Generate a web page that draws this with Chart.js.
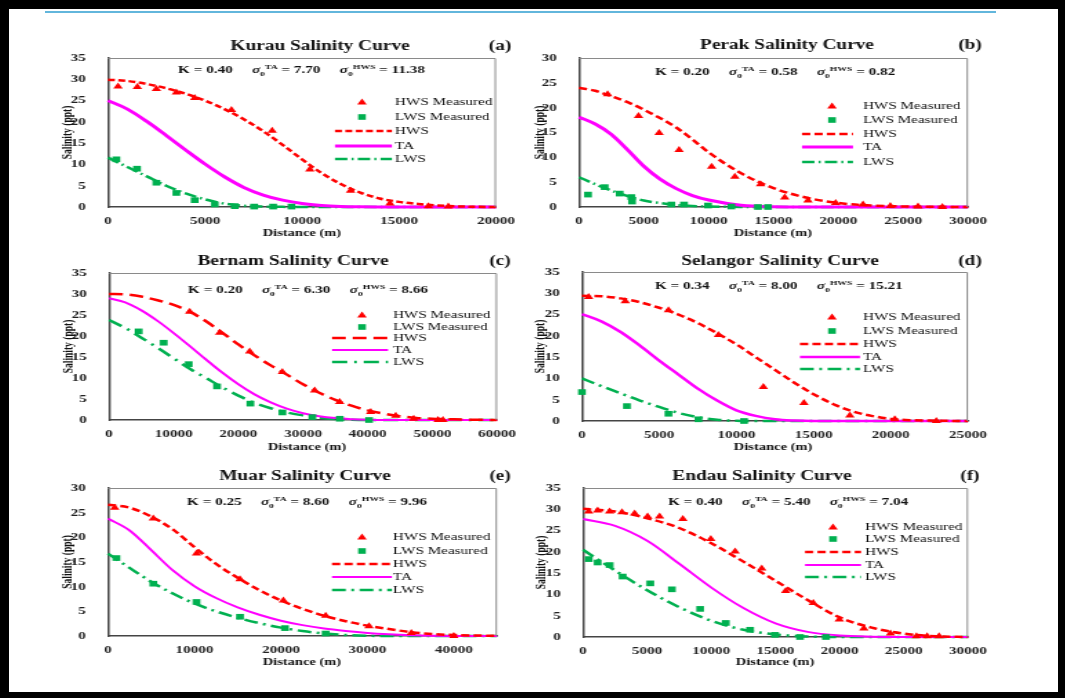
<!DOCTYPE html>
<html>
<head>
<meta charset="utf-8">
<title>Salinity Curves</title>
<script src="https://cdn.jsdelivr.net/npm/chart.js@4.4.0/dist/chart.umd.min.js"></script>
<style>
  html, body { margin: 0; padding: 0; background: #000; }
  #page { position: relative; width: 1065px; height: 698px; background: #000; overflow: hidden; }
  #sheet { position: absolute; left: 9px; top: 9px; width: 1049px; height: 683px; background: #fff; }
  #rule { position: absolute; left: 45px; top: 11px; width: 951px; height: 2px; background: #62b6dc; }
  canvas.panel { position: absolute; transform-origin: 0 0; }
</style>
</head>
<body>
<div id="page">
  <div id="sheet"></div>
  <div id="rule"></div>
</div>
<script>
// ---- data ----
const legendLabels = ['HWS Measured', 'LWS Measured', 'HWS', 'TA', 'LWS'];
const riverTitles = ['Kurau Salinity Curve', 'Perak Salinity Curve', 'Bernam Salinity Curve',
                     'Selangor Salinity Curve', 'Muar Salinity Curve', 'Endau Salinity Curve'];
const panelTags = ['(a)', '(b)', '(c)', '(d)', '(e)', '(f)'];
const kValues = ['0.40', '0.20', '0.20', '0.34', '0.25', '0.40'];
const sigmaTa = ['7.70', '0.58', '6.30', '8.00', '8.60', '5.40'];
const sigmaHws = ['11.38', '0.82', '8.66', '15.21', '9.96', '7.04'];

const ticks30 = [0, 5, 10, 15, 20, 25, 30];
const ticks35 = [0, 5, 10, 15, 20, 25, 30, 35];
const kurauXTicks = [0, 5000, 10000, 15000, 20000];
const perakXTicks = [0, 5000, 10000, 15000, 20000, 25000, 30000];
const bernamXTicks = [0, 10000, 20000, 30000, 40000, 50000, 60000];
const selangorXTicks = [0, 5000, 10000, 15000, 20000, 25000];
const muarXTicks = [0, 10000, 20000, 30000, 40000];
const endauXTicks = [0, 5000, 10000, 15000, 20000, 25000, 30000];

// Kurau
const kurauDist = [0, 1000, 2000, 3000, 4000, 5000, 6000, 7000, 8000, 9000, 10000,
                   11000, 12000, 13000, 14000, 15000, 16000, 17000, 18000, 19000, 20000];
const kurauHws = [29.9, 29.6, 28.9, 27.9, 26.6, 25.0, 23.0, 20.6, 17.8, 14.6, 11.2,
                  8.0, 5.4, 3.4, 2.0, 1.2, 0.7, 0.35, 0.15, 0.05, 0];
const kurauTa = [25.0, 23.0, 20.1, 16.8, 13.4, 10.1, 7.1, 4.6, 2.8, 1.6, 0.8,
                 0.35, 0.12, 0.03, 0, 0, 0, 0, 0, 0, 0];
const kurauLws = [11.6, 9.4, 7.2, 5.0, 3.2, 1.8, 0.8, 0.3, 0.1, 0.03, 0,
                  0, 0, 0, 0, 0, 0, 0, 0, 0, 0];
const kurauHwsMeasDist = [516, 1513, 2494, 3525, 4471, 6363, 8461, 10404, 12502, 14531, 16509, 17541];
const kurauHwsMeas = [28.3, 28.2, 27.7, 26.9, 25.6, 22.8, 17.9, 8.8, 3.8, 0.8, 0.2, 0.1];
const kurauLwsMeasDist = [430, 1496, 2494, 3525, 4471, 5503, 6535, 7532, 8512, 9458];
const kurauLwsMeas = [11.2, 9.0, 5.7, 3.3, 1.6, 0.6, 0.2, 0.1, 0.1, 0.1];

// Perak
const perakDist = [0, 1250, 2500, 3750, 5000, 6250, 7500, 8750, 10000, 12500,
                   15000, 17500, 20000, 22500, 25000, 27500, 30000];
const perakHws = [24.0, 23.4, 22.3, 21.1, 19.6, 17.9, 16.0, 13.6, 11.0, 6.8,
                  3.8, 1.9, 0.8, 0.3, 0.1, 0.03, 0];
const perakTa = [18.1, 16.7, 14.6, 11.5, 8.2, 5.6, 3.7, 2.3, 1.4, 0.35,
                 0.05, 0, 0, 0, 0, 0, 0];
const perakLws = [6.0, 4.6, 3.3, 2.2, 1.3, 0.8, 0.4, 0.2, 0.1, 0.02,
                  0, 0, 0, 0, 0, 0, 0];
const perakHwsMeasDist = [2207, 4590, 6178, 7716, 10228, 12020, 14000, 15866, 17661, 19794, 21902, 24010, 26144, 28020];
const perakHwsMeas = [22.7, 18.3, 14.9, 11.5, 8.1, 6.1, 4.6, 1.9, 1.3, 0.8, 0.5, 0.2, 0.1, 0.0];
const perakLwsMeasDist = [694, 1979, 3136, 4036, 4088, 7121, 8098, 9949, 11748, 13805, 14576];
const perakLwsMeas = [2.5, 4.0, 2.7, 2.0, 1.1, 0.5, 0.5, 0.3, 0.1, 0, 0];

// Bernam
const bernamDist = [0, 2500, 5000, 7500, 10000, 12500, 15000, 17500, 20000, 22500, 25000, 27500, 30000,
                    32500, 35000, 37500, 40000, 42500, 45000, 47500, 50000, 52500, 55000, 57500, 60000];
const bernamHws = [30.0, 29.9, 29.4, 28.5, 27.4, 25.8, 23.5, 20.8, 18.0, 15.4, 13.0, 10.8, 8.5,
                   6.5, 4.8, 3.4, 2.3, 1.5, 0.9, 0.5, 0.3, 0.2, 0.1, 0.05, 0];
const bernamTa = [29.0, 28.0, 26.1, 23.6, 20.7, 17.6, 14.4, 11.3, 8.5, 6.1, 4.2, 2.7, 1.6,
                  0.9, 0.45, 0.18, 0.05, 0, 0, 0, 0, 0, 0, 0, 0];
const bernamLws = [23.8, 21.9, 19.6, 17.2, 14.7, 12.2, 10.0, 7.8, 5.8, 4.1, 2.8, 1.8, 1.1,
                   0.6, 0.2, 0.05, 0, 0, 0, 0, 0, 0, 0, 0, 0];
const bernamHwsMeasDist = [12474, 17113, 21753, 26804, 31804, 35670, 40464, 44330, 47113, 50876, 51649];
const bernamHwsMeas = [25.8, 20.8, 16.3, 11.4, 7.0, 4.3, 1.9, 1.0, 0.3, 0, 0];
const bernamLwsMeasDist = [4588, 8454, 12320, 16701, 21856, 26804, 31443, 35670, 40206];
const bernamLwsMeas = [21.1, 18.4, 13.3, 8.0, 3.9, 1.8, 0.7, 0.3, 0];

// Selangor
const selangorDist = [0, 1250, 2500, 3750, 5000, 6250, 7500, 8750, 10000, 11250, 12500,
                      13750, 15000, 16250, 17500, 18750, 20000, 21250, 22500, 23750, 25000];
const selangorHws = [29.4, 29.3, 28.8, 27.9, 26.6, 25.0, 23.0, 20.6, 18.0, 15.0, 12.0,
                     9.0, 6.3, 4.0, 2.3, 1.2, 0.5, 0.2, 0.1, 0.03, 0];
const selangorTa = [25.1, 23.4, 20.9, 17.7, 14.2, 10.9, 7.6, 4.8, 2.5, 1.2, 0.4,
                    0.1, 0, 0, 0, 0, 0, 0, 0, 0, 0];
const selangorLws = [10.0, 8.2, 6.5, 4.8, 3.3, 1.9, 0.9, 0.3, 0.05, 0, 0,
                     0, 0, 0, 0, 0, 0, 0, 0, 0, 0];
const selangorHwsMeasDist = [431, 2802, 5603, 8836, 11746, 14375, 17349, 20259, 22953];
const selangorHwsMeas = [29.1, 28.1, 26.0, 20.2, 8.0, 4.2, 1.3, 0.4, 0];
const selangorLwsMeasDist = [0, 2909, 5603, 7543, 10496];
const selangorLwsMeas = [6.8, 3.5, 1.7, 0.4, 0];

// Muar
const muarDist = [0, 2500, 5000, 7500, 10000, 12500, 15000, 17500, 20000, 22500,
                  25000, 27500, 30000, 32500, 35000, 37500, 40000, 42500, 45000];
const muarHws = [26.6, 26.0, 24.2, 21.6, 18.0, 14.6, 11.8, 9.3, 7.2, 5.5,
                 4.1, 3.0, 2.1, 1.4, 0.8, 0.4, 0.2, 0.1, 0.05];
const muarTa = [23.8, 21.4, 17.4, 13.3, 10.1, 7.7, 5.8, 4.3, 3.1, 2.2,
                1.5, 1.0, 0.6, 0.33, 0.15, 0.05, 0.01, 0, 0];
const muarLws = [16.7, 13.8, 11.0, 8.6, 6.6, 5.0, 3.7, 2.6, 1.7, 1.0,
                 0.5, 0.2, 0.05, 0, 0, 0, 0, 0, 0];
const muarHwsMeasDist = [775, 5242, 10238, 15270, 20284, 25180, 30193, 35090, 40000];
const muarHwsMeas = [26.0, 23.8, 16.7, 11.5, 7.2, 4.1, 2.0, 0.6, 0];
const muarLwsMeasDist = [970, 5242, 10238, 15270, 20474, 25180];
const muarLwsMeas = [15.8, 10.6, 6.9, 3.9, 1.6, 0.5];

// Endau
const endauDist = [0, 2500, 5000, 7500, 10000, 12500, 15000, 17500, 20000, 22500, 25000, 27500, 30000];
const endauHws = [30.1, 29.5, 27.9, 25.6, 22.0, 17.7, 13.2, 8.7, 4.6, 2.2, 0.8, 0.15, 0];
const endauTa = [27.7, 26.1, 22.6, 17.2, 11.6, 6.8, 3.2, 1.2, 0.35, 0.08, 0, 0, 0];
const endauLws = [20.5, 15.6, 11.0, 7.0, 3.8, 1.7, 0.6, 0.1, 0, 0, 0, 0, 0];
const endauHwsMeasDist = [441, 1141, 2074, 3034, 4019, 5030, 5964, 7779, 9957, 11850, 13924,
                          15791, 17943, 19965, 21884, 23958, 25981, 26811, 27744];
const endauHwsMeas = [29.5, 29.7, 29.5, 29.3, 29.0, 28.3, 28.3, 27.7, 23.0, 20.1, 16.1,
                      10.8, 8.0, 4.1, 2.0, 0.8, 0.2, 0.2, 0.2];
const endauLwsMeasDist = [441, 1141, 2074, 3086, 5238, 6923, 9127, 11124, 13017, 14961, 16906, 18929];
const endauLwsMeas = [18.3, 17.5, 16.9, 14.2, 12.6, 11.2, 6.6, 3.3, 1.7, 0.5, 0, 0];

// ---- look ----
const S = 1.38; // the source figure is stretched sideways
const FONT = '"Liberation Serif", "Times New Roman", serif';
const RED = '#ff0000', MAGENTA = '#ff00ff', GREEN = '#00b050';

const panels = [
  { dist: kurauDist, hws: kurauHws, ta: kurauTa, lws: kurauLws,
    hm: [kurauHwsMeasDist, kurauHwsMeas], lm: [kurauLwsMeasDist, kurauLwsMeas],
    xMax: 20000, xTicks: kurauXTicks, yMax: 35, yTicks: ticks35,
    box: [108, 58, 496, 207], titleAt: [320, 46], tagAt: [500, 46], xTitleAt: [302, 233], yTitleX: 68,
    noteAt: [178, 69], leg: { line: [335, 392], mark: 362, text: 395, rows: [102, 117, 131, 146, 159] },
    hwsDash: [5, 2.5], lwsDash: [9, 3, 1.5, 3], taW: 3 },
  { dist: perakDist, hws: perakHws, ta: perakTa, lws: perakLws,
    hm: [perakHwsMeasDist, perakHwsMeas], lm: [perakLwsMeasDist, perakLwsMeas],
    xMax: 30000, xTicks: perakXTicks, yMax: 30, yTicks: ticks30,
    box: [579, 58, 968, 207], titleAt: [787, 45], tagAt: [970, 45], xTitleAt: [773, 233], yTitleX: 540,
    noteAt: [655, 71], leg: { line: [802, 853], mark: 832, text: 863, rows: [106, 120, 134, 147, 162] },
    hwsDash: [6, 3], lwsDash: [9, 3, 1.5, 3], taW: 3 },
  { dist: bernamDist, hws: bernamHws, ta: bernamTa, lws: bernamLws,
    hm: [bernamHwsMeasDist, bernamHwsMeas], lm: [bernamLwsMeasDist, bernamLwsMeas],
    xMax: 60000, xTicks: bernamXTicks, yMax: 35, yTicks: ticks35,
    box: [109, 273, 497, 420], titleAt: [293, 261], tagAt: [500, 261], xTitleAt: [307, 447], yTitleX: 69,
    noteAt: [188, 289], leg: { line: [332, 388], mark: 362, text: 393, rows: [315, 327, 338, 350, 362] },
    hwsDash: [10, 5], lwsDash: [11, 5, 2, 5], taW: 2 },
  { dist: selangorDist, hws: selangorHws, ta: selangorTa, lws: selangorLws,
    hm: [selangorHwsMeasDist, selangorHwsMeas], lm: [selangorLwsMeasDist, selangorLwsMeas],
    xMax: 25000, xTicks: selangorXTicks, yMax: 35, yTicks: ticks35,
    box: [582, 272, 968, 421], titleAt: [780, 261], tagAt: [970, 261], xTitleAt: [773, 447], yTitleX: 541,
    noteAt: [655, 285], leg: { line: [800, 860], mark: 832, text: 863, rows: [317, 331, 344, 357, 369] },
    hwsDash: [6, 3], lwsDash: [10, 4, 2, 4], taW: 2.5 },
  { dist: muarDist, hws: muarHws, ta: muarTa, lws: muarLws,
    hm: [muarHwsMeasDist, muarHwsMeas], lm: [muarLwsMeasDist, muarLwsMeas],
    xMax: 45000, xTicks: muarXTicks, yMax: 30, yTicks: ticks30,
    box: [108, 488, 497, 636], titleAt: [305, 476], tagAt: [500, 476], xTitleAt: [302, 662], yTitleX: 68,
    noteAt: [187, 501], leg: { line: [332, 392], mark: 362, text: 393, rows: [537, 551, 564, 577, 590] },
    hwsDash: [6, 3], lwsDash: [10, 4, 2, 4], taW: 2 },
  { dist: endauDist, hws: endauHws, ta: endauTa, lws: endauLws,
    hm: [endauHwsMeasDist, endauHwsMeas], lm: [endauLwsMeasDist, endauLwsMeas],
    xMax: 30000, xTicks: endauXTicks, yMax: 35, yTicks: ticks35,
    box: [583, 488, 968, 637], titleAt: [762, 476], tagAt: [970, 476], xTitleAt: [775, 662], yTitleX: 542,
    noteAt: [668, 501], leg: { line: [805, 861], mark: 833, text: 865, rows: [527, 539, 552, 565, 577] },
    hwsDash: [6, 3], lwsDash: [10, 4, 2, 4], taW: 2 }
];

const pts = (xs, ys) => xs.map((x, i) => ({ x: x, y: ys[i] }));

function tri(ctx, x, y, r) {
  ctx.beginPath();
  ctx.moveTo(x, y - r);
  ctx.lineTo(x + r * 0.866, y + r * 0.5);
  ctx.lineTo(x - r * 0.866, y + r * 0.5);
  ctx.closePath();
  ctx.fill();
}

function makePanel(p, idx) {
  const [l, t, r, b] = p.box;
  const Lp = l - 75, Tp = t - 35;
  const W = Math.round((r + 40 - Lp) / S), H = b + 40 - Tp;
  const ix = x => (x - Lp) / S;
  const iy = y => y - Tp;

  const canvas = document.createElement('canvas');
  canvas.className = 'panel';
  canvas.width = W;
  canvas.height = H;
  canvas.style.left = Lp + 'px';
  canvas.style.top = Tp + 'px';
  canvas.style.transform = 'scaleX(' + S + ')';
  document.getElementById('page').appendChild(canvas);

  const yAxisW = ix(l);
  const rightPad = W - ix(r);

  // titles, note and legend drawn in the sheet's own places
  const decor = {
    id: 'decor' + idx,
    afterDatasetsDraw(chart) {
      const ctx = chart.ctx;
      const a = chart.chartArea;
      ctx.save();
      // grey frame on top/right
      ctx.strokeStyle = '#8a8a8a';
      ctx.lineWidth = 1;
      ctx.beginPath();
      ctx.moveTo(a.left, a.top + 0.5);
      ctx.lineTo(a.right - 0.5, a.top + 0.5);
      ctx.lineTo(a.right - 0.5, a.bottom);
      ctx.stroke();

      ctx.fillStyle = '#111';
      ctx.textBaseline = 'middle';
      ctx.textAlign = 'center';
      ctx.font = 'bold 14px ' + FONT;
      ctx.fillText(riverTitles[idx], ix(p.titleAt[0]), iy(p.titleAt[1]));
      ctx.fillText(panelTags[idx], ix(p.tagAt[0]), iy(p.tagAt[1]));

      ctx.font = 'bold 10.5px ' + FONT;
      ctx.fillText('Distance (m)', ix(p.xTitleAt[0]), iy(p.xTitleAt[1]));

      ctx.save();
      ctx.translate(ix(p.yTitleX), (a.top + a.bottom) / 2);
      ctx.rotate(-Math.PI / 2);
      ctx.font = 'bold 9.5px ' + FONT;
      ctx.fillText('Salinity (ppt)', 0, 0);
      ctx.restore();

      // K and sigma note
      ctx.textAlign = 'left';
      ctx.textBaseline = 'alphabetic';
      const base = iy(p.noteAt[1]) + 4;
      let cx = ix(p.noteAt[0]);
      const put = (txt, font, dy) => {
        ctx.font = font;
        ctx.fillText(txt, cx, base + dy);
        cx += ctx.measureText(txt).width;
      };
      const big = 'bold 11px ' + FONT, it = 'italic bold 11px ' + FONT, sm = 'bold 7px ' + FONT;
      put('K = ' + kValues[idx], big, 0);
      cx += 14;
      put('σ', it, 0); put('0', sm, 3); put('TA', sm, -4); put(' = ' + sigmaTa[idx], big, 0);
      cx += 14;
      put('σ', it, 0); put('0', sm, 3); put('HWS', sm, -4); put(' = ' + sigmaHws[idx], big, 0);

      // legend
      const lg = p.leg;
      const x1 = ix(lg.line[0]), x2 = ix(lg.line[1]), mx = ix(lg.mark);
      const rows = lg.rows.map(iy);
      ctx.fillStyle = RED;
      tri(ctx, mx, rows[0] + 0.5, 4);
      ctx.fillStyle = GREEN;
      ctx.fillRect(mx - 2.8, rows[1] - 2.8, 5.6, 5.6);
      const seg = (y, color, w, dash) => {
        ctx.strokeStyle = color;
        ctx.lineWidth = w;
        ctx.setLineDash(dash);
        ctx.beginPath();
        ctx.moveTo(x1, y);
        ctx.lineTo(x2, y);
        ctx.stroke();
      };
      seg(rows[2], RED, 2.5, p.hwsDash);
      seg(rows[3], MAGENTA, p.taW, []);
      seg(rows[4], GREEN, 2.5, p.lwsDash);
      ctx.setLineDash([]);
      ctx.fillStyle = '#111';
      ctx.textBaseline = 'middle';
      ctx.font = '11px ' + FONT;
      legendLabels.forEach((lab, i) => ctx.fillText(lab, ix(lg.text), rows[i]));
      ctx.restore();
    }
  };

  const tickFont = { family: FONT, size: 11, weight: 'bold' };

  new Chart(canvas, {
    type: 'scatter',
    data: {
      datasets: [
        { label: legendLabels[0], data: pts(p.hm[0], p.hm[1]), pointStyle: 'triangle',
          pointRadius: 4, backgroundColor: RED, borderColor: RED, borderWidth: 0, clip: false },
        { label: legendLabels[1], data: pts(p.lm[0], p.lm[1]), pointStyle: 'rect',
          pointRadius: 4, backgroundColor: GREEN, borderColor: GREEN, borderWidth: 0, clip: false },
        { label: legendLabels[2], data: pts(p.dist, p.hws), showLine: true, pointRadius: 0,
          borderColor: RED, borderWidth: 2.5, borderDash: p.hwsDash, cubicInterpolationMode: 'monotone', clip: false },
        { label: legendLabels[3], data: pts(p.dist, p.ta), showLine: true, pointRadius: 0,
          borderColor: MAGENTA, borderWidth: p.taW, cubicInterpolationMode: 'monotone', clip: false },
        { label: legendLabels[4], data: pts(p.dist, p.lws), showLine: true, pointRadius: 0,
          borderColor: GREEN, borderWidth: 2.5, borderDash: p.lwsDash, cubicInterpolationMode: 'monotone', clip: false }
      ]
    },
    options: {
      responsive: false,
      animation: false,
      devicePixelRatio: 1,
      layout: { padding: { left: 0, top: 35, right: rightPad, bottom: 0 } },
      plugins: { legend: { display: false }, title: { display: false }, tooltip: { enabled: false } },
      scales: {
        x: {
          type: 'linear', min: 0, max: p.xMax,
          afterBuildTicks: s => { s.ticks = p.xTicks.map(v => ({ value: v })); },
          afterFit: s => { s.height = 40; },
          grid: { display: false },
          border: { display: true, color: '#444', width: 1.5 },
          ticks: { font: tickFont, color: '#222', padding: 0, autoSkip: false, maxRotation: 0,
                   callback: v => String(v) }
        },
        y: {
          type: 'linear', min: 0, max: p.yMax,
          afterBuildTicks: s => { s.ticks = p.yTicks.map(v => ({ value: v })); },
          afterFit: s => { s.width = yAxisW; },
          grid: { display: false },
          border: { display: true, color: '#444', width: 1.5 },
          ticks: { font: tickFont, color: '#222', padding: 8, callback: v => String(v) }
        }
      }
    },
    plugins: [decor]
  });
}

panels.forEach(makePanel);
</script>
</body>
</html>
